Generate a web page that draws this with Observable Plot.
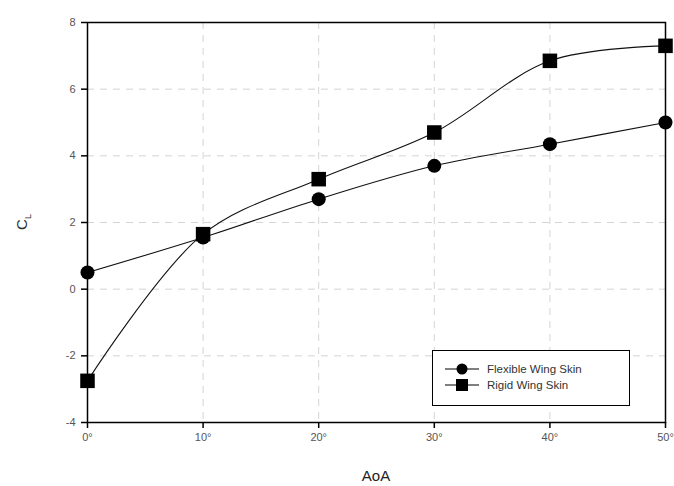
<!DOCTYPE html>
<html><head><meta charset="utf-8">
<script src="https://cdn.jsdelivr.net/npm/d3@7"></script>
<script src="https://cdn.jsdelivr.net/npm/@observablehq/plot@0.6"></script>
<style>
body{margin:0;background:#fff;font-family:"Liberation Sans",Arial,sans-serif;}
#wrap{position:relative;width:674px;height:486px;}
#legend{position:absolute;left:432px;top:350px;width:198px;height:56px;border:1.5px solid #000;box-sizing:border-box;background:#fff;font-size:11.5px;color:#333;}
#legend .row{position:absolute;left:10px;height:16px;display:flex;align-items:center;}
#legend svg{margin-right:6px;}
</style></head>
<body><div id="wrap"><div id="legend"></div></div>
<script>
const aoa = [0, 10, 20, 30, 40, 50];
const flexible = [0.5, 1.55, 2.7, 3.7, 4.35, 5.0];
const rigid = [-2.75, 1.65, 3.3, 4.7, 6.85, 7.3];
const seriesNames = ["Flexible Wing Skin", "Rigid Wing Skin"];
const xTicks = [0, 10, 20, 30, 40, 50];
const yTicks = [-4, -2, 0, 2, 4, 6, 8];

const flexData = aoa.map((a, i) => ({a, v: flexible[i]}));
const rigidData = aoa.map((a, i) => ({a, v: rigid[i]}));

const chart = Plot.plot({
  width: 674, height: 486,
  marginLeft: 87, marginRight: 9, marginTop: 22, marginBottom: 64,
  style: {fontFamily: '"Liberation Sans", Arial, sans-serif', fontSize: "11px", color: "#444", background: "#fff"},
  x: {domain: [0, 50], ticks: xTicks, tickFormat: d => d + "°", label: null, tickSize: 6, tickPadding: 5},
  y: {domain: [-4, 8], ticks: yTicks, tickFormat: d => String(d), label: null, tickSize: 6, tickPadding: 6},
  marks: [
    Plot.gridX(xTicks.slice(1, -1), {stroke: "#d4d4d4", strokeOpacity: 1, strokeDasharray: "7,6"}),
    Plot.gridY(yTicks.slice(1, -1), {stroke: "#d4d4d4", strokeOpacity: 1, strokeDasharray: "7,6"}),
    Plot.line(flexData, {x: "a", y: "v", curve: "catmull-rom", stroke: "#111", strokeWidth: 1.1}),
    Plot.line(rigidData, {x: "a", y: "v", curve: "catmull-rom", stroke: "#111", strokeWidth: 1.1}),
    Plot.dot(flexData, {x: "a", y: "v", r: 7, fill: "#000", symbol: "circle"}),
    Plot.dot(rigidData, {x: "a", y: "v", r: 8.2, fill: "#000", symbol: "square"}),
    Plot.axisX({ticks: xTicks, tickFormat: d => d + "°", tickSize: 6, tickPadding: 5, stroke: "#000", strokeWidth: 1.5, color: "#555"}),
    Plot.axisY({ticks: yTicks, tickFormat: d => String(d), tickSize: 6, tickPadding: 6, stroke: "#000", strokeWidth: 1.5, color: "#555"}),
    Plot.frame({stroke: "#000", strokeWidth: 1.5})
  ]
});
document.getElementById("wrap").prepend(chart);

const svg = d3.select(chart);
// Axis titles
svg.append("text").attr("x", 87 + (665 - 87) / 2).attr("y", 481).attr("text-anchor", "middle")
  .attr("font-size", 15).attr("fill", "#222").text("AoA");
const yl = svg.append("text").attr("transform", "translate(27,222) rotate(-90)").attr("text-anchor", "middle")
  .attr("font-size", 15).attr("fill", "#333");
yl.append("tspan").text("C");
yl.append("tspan").attr("font-size", 9).attr("dy", 4).text("L");

// Legend
const leg = d3.select("#legend");
seriesNames.forEach((name, i) => {
  const row = leg.append("div").attr("class", "row").style("top", (i === 0 ? 10 : 26) + "px");
  const s = row.append("svg").attr("width", 38).attr("height", 16);
  s.append("line").attr("x1", 2).attr("x2", 36).attr("y1", 8).attr("y2", 8).attr("stroke", "#000").attr("stroke-width", 1.2);
  if (i === 0) s.append("circle").attr("cx", 19).attr("cy", 8).attr("r", 5.5).attr("fill", "#000");
  else s.append("rect").attr("x", 13).attr("y", 2).attr("width", 12).attr("height", 12).attr("fill", "#000");
  row.append("span").text(name);
});
</script></body></html>
